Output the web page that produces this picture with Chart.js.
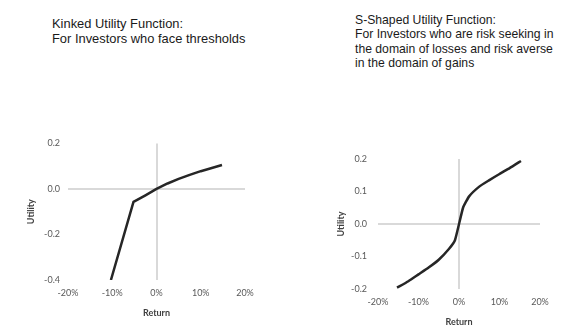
<!DOCTYPE html>
<html>
<head>
<meta charset="utf-8">
<script src="https://cdn.jsdelivr.net/npm/chart.js@4.4.1/dist/chart.umd.min.js"></script>
<style>
  html, body { margin: 0; padding: 0; background: #fff; }
  body { width: 587px; height: 333px; position: relative; overflow: hidden; }
  .heading {
    position: absolute;
    font-family: "Liberation Sans", Arial, sans-serif;
    font-size: 12.9px;
    line-height: 15px;
    color: #1a1a1a;
    white-space: nowrap;
  }
  .heading.narrow { font-size: 12.2px; line-height: 14.4px; }
  .box { position: absolute; }
</style>
</head>
<body>
<div class="heading" style="left:52px; top:16px;">Kinked Utility Function:<br>For Investors who face thresholds</div>
<div class="heading narrow" style="left:355px; top:13px;">S-Shaped Utility Function:<br>For Investors who are risk seeking in<br>the domain of losses and risk averse<br>in the domain of gains</div>

<div class="box" style="left:0; top:130px; width:290px; height:203px;"><canvas id="kinkedChart"></canvas></div>
<div class="box" style="left:290px; top:140px; width:297px; height:193px;"><canvas id="sShapedChart"></canvas></div>

<script>
// Kinked utility: steep losses below the threshold, concave gains
const kinkedReturns = [-0.103, -0.052, -0.025, 0, 0.025, 0.05, 0.075, 0.10, 0.125, 0.148];
const kinkedUtility = [-0.40, -0.057, -0.028, 0, 0.024, 0.044, 0.062, 0.078, 0.092, 0.105];

// S-shaped utility: convex for losses, concave for gains
const sShapedReturns = [-0.153, -0.125, -0.10, -0.075, -0.05, -0.025, -0.01, 0.01, 0.025, 0.05, 0.075, 0.10, 0.125, 0.153];
const sShapedUtility = [-0.196, -0.176, -0.155, -0.134, -0.11, -0.077, -0.05, 0.05, 0.085, 0.115, 0.135, 0.154, 0.172, 0.194];

// Axis ticks
const returnTicks = [-0.2, -0.1, 0, 0.1, 0.2];
const kinkedUtilityTicks = [-0.4, -0.2, 0, 0.2];
const sShapedUtilityTicks = [-0.2, -0.1, 0, 0.1, 0.2];

const tickFont = { family: "Lato, 'Open Sans', sans-serif", size: 9 };
const titleFont = { family: "Lato, 'Open Sans', sans-serif", size: 9, weight: "bold" };
const tickColor = "#595959";
const zeroLine = ctx => (ctx.tick && ctx.tick.value === 0) ? "#d9d9d9" : "rgba(0,0,0,0)";

function toPoints(xs, ys) {
  return xs.map((x, i) => ({ x: x, y: ys[i] }));
}

function makeChart(id, xs, ys, yTicks, cfg) {
  const ctx = document.getElementById(id).getContext("2d");
  return new Chart(ctx, {
    type: "scatter",
    data: {
      datasets: [{
        data: toPoints(xs, ys),
        showLine: true,
        borderColor: "#262626",
        borderWidth: 2.5,
        pointRadius: 0,
        tension: cfg.tension,
        borderCapStyle: "butt",
        borderJoinStyle: "round"
      }]
    },
    options: {
      responsive: true,
      maintainAspectRatio: false,
      animation: false,
      layout: { padding: cfg.padding },
      plugins: { legend: { display: false }, tooltip: { enabled: false } },
      scales: {
        x: {
          type: "linear",
          min: returnTicks[0],
          max: returnTicks[returnTicks.length - 1],
          afterBuildTicks: s => { s.ticks = returnTicks.map(v => ({ value: v })); },
          afterFit: s => { s.height = cfg.xHeight; },
          border: { display: false },
          grid: { color: zeroLine, lineWidth: 2, drawTicks: false },
          ticks: {
            font: tickFont,
            color: tickColor,
            padding: cfg.xTickPad,
            maxRotation: 0,
            callback: v => Math.round(v * 100) + "%"
          },
          title: { display: true, text: "Return", font: titleFont, color: "#404040", padding: { top: 0, bottom: cfg.xTitlePad } }
        },
        y: {
          type: "linear",
          min: yTicks[0],
          max: yTicks[yTicks.length - 1],
          afterBuildTicks: s => { s.ticks = yTicks.map(v => ({ value: v })); },
          afterFit: s => { s.width = cfg.yWidth; },
          border: { display: false },
          grid: { color: zeroLine, lineWidth: 2, drawTicks: false },
          ticks: {
            font: tickFont,
            color: tickColor,
            padding: cfg.yTickPad,
            callback: v => v.toFixed(1)
          },
          title: { display: true, text: "Utility", font: titleFont, color: "#404040", padding: { top: cfg.yTitlePad, bottom: 0 } }
        }
      }
    }
  });
}

makeChart("kinkedChart", kinkedReturns, kinkedUtility, kinkedUtilityTicks, {
  padding: { left: 10, right: 45, top: 11, bottom: 13 },
  yWidth: 58, xHeight: 40,
  yTickPad: 8, xTickPad: 8,
  yTitlePad: 16, xTitlePad: 2,
  tension: 0
});

makeChart("sShapedChart", sShapedReturns, sShapedUtility, sShapedUtilityTicks, {
  padding: { left: 30, right: 47, top: 19, bottom: 5 },
  yWidth: 58, xHeight: 39,
  yTickPad: 11, xTickPad: 8,
  yTitlePad: 16, xTitlePad: 1,
  tension: 0.15
});
</script>
</body>
</html>
